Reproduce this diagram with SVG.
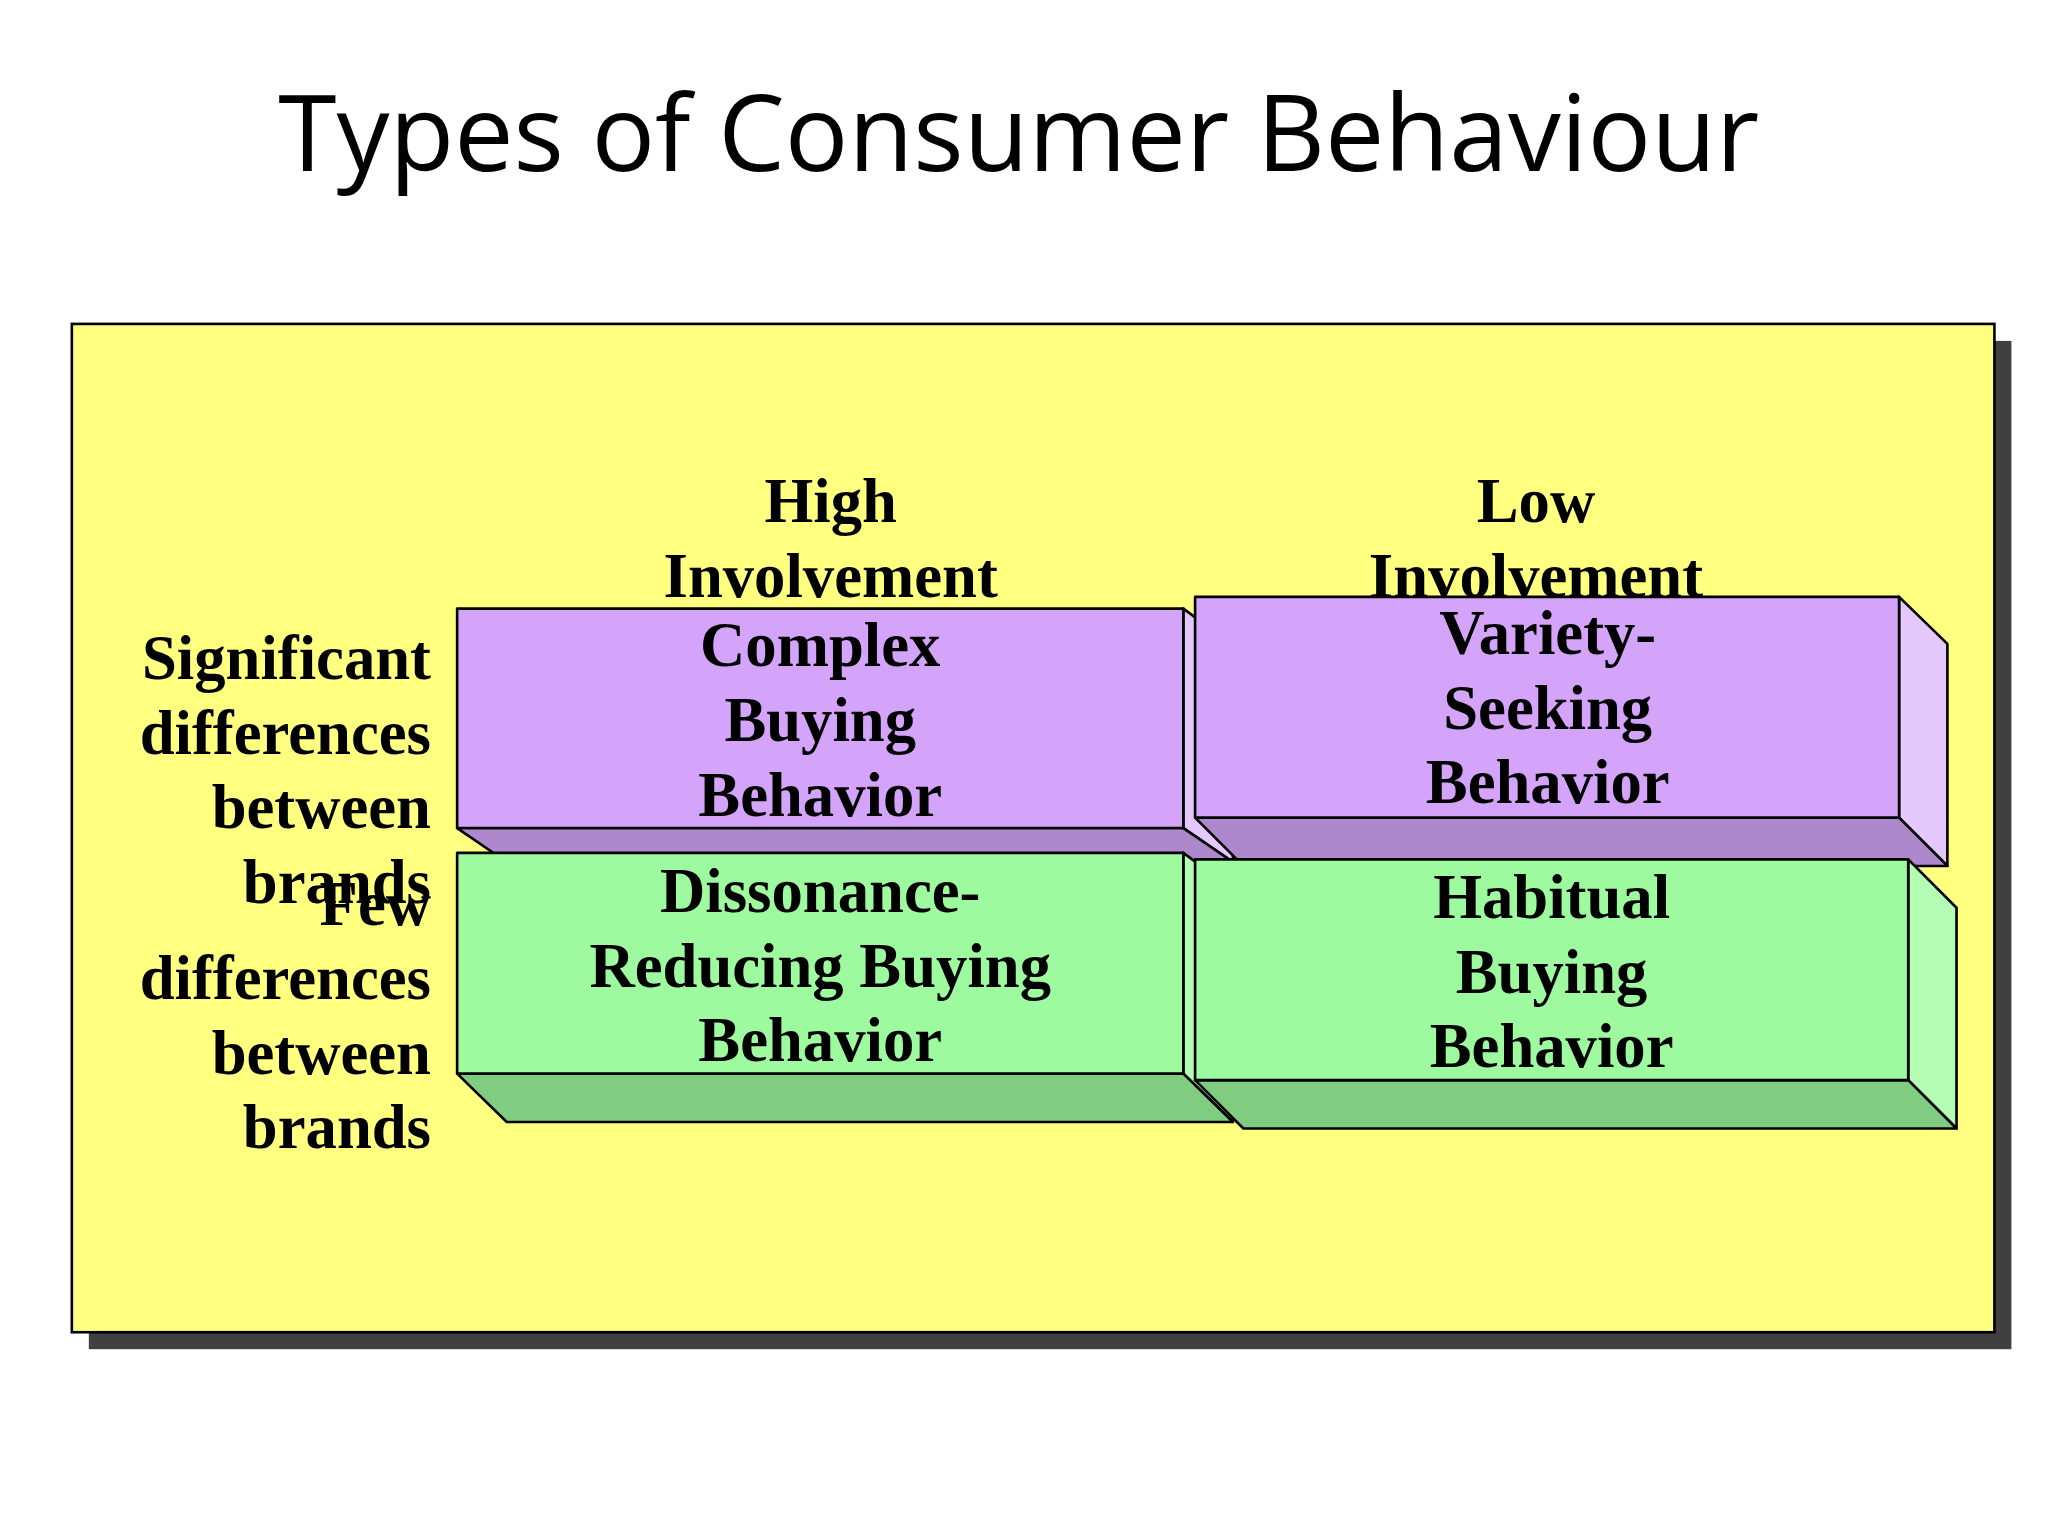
<svg xmlns="http://www.w3.org/2000/svg" width="2048" height="1536" viewBox="0 0 2048 1536">
<style>
.t{font-family:"Liberation Serif",serif;font-weight:bold;font-size:48px;fill:#000}
.c{text-anchor:middle}.r{text-anchor:end}
.e{stroke:#000;stroke-width:2;stroke-linejoin:round}
.pf{fill:#D4A4FA}.pb{fill:#AE88CC}.ps{fill:#E4C8FC}
.gf{fill:#9EFA9E}.gb{fill:#80CC80}.gs{fill:#B4FCB4}
</style>
<rect width="2048" height="1536" fill="#fff"/>
<g transform="scale(1.3061)">
<text x="780" y="131" text-anchor="middle" font-family="'Open Sans',sans-serif" font-size="81">Types of Consumer Behaviour</text>
<g id="panel">
<rect x="68" y="261" width="1472" height="772" fill="#404040"/>
<rect x="55" y="248" width="1472" height="772" fill="#FFFF80" stroke="#000" stroke-width="2"/>
</g>
<g id="headers">
<text class="t c" x="636" y="400">High</text>
<text class="t c" x="636" y="457">Involvement</text>
<text class="t c" x="1176" y="400">Low</text>
<text class="t c" x="1176" y="457">Involvement</text>
</g>
<g id="rowlabels">
<text class="t r" x="330" y="520">Significant</text>
<text class="t r" x="330" y="577">differences</text>
<text class="t r" x="330" y="634">between</text>
<text class="t r" x="330" y="691">brands</text>
<text class="t r" x="330" y="708">Few</text>
<text class="t r" x="330" y="765">differences</text>
<text class="t r" x="330" y="822">between</text>
<text class="t r" x="330" y="879">brands</text>
</g>
<g id="complex">
<polygon class="e ps" points="906,466 944,494 944,660 906,634"/>
<polygon class="e pb" points="350,634 906,634 944,660 388,660"/>
<rect class="e pf" x="350" y="466" width="556" height="168"/>
<text class="t c" x="628" y="510">Complex</text>
<text class="t c" x="628" y="567">Buying</text>
<text class="t c" x="628" y="625">Behavior</text>
</g>
<g id="variety">
<polygon class="e ps" points="1454,457 1491,493 1491,663 1454,626"/>
<polygon class="e pb" points="915,626 1454,626 1491,663 952,663"/>
<rect class="e pf" x="915" y="457" width="539" height="169"/>
<text class="t c" x="1185" y="501">Variety-</text>
<text class="t c" x="1185" y="558">Seeking</text>
<text class="t c" x="1185" y="615">Behavior</text>
</g>
<g id="dissonance">
<polygon class="e gs" points="906,653 944,681 944,859 906,822"/>
<polygon class="e gb" points="350,822 906,822 944,859 388,859"/>
<rect class="e gf" x="350" y="653" width="556" height="169"/>
<text class="t c" x="628" y="698">Dissonance-</text>
<text class="t c" x="628" y="756">Reducing Buying</text>
<text class="t c" x="628" y="812">Behavior</text>
</g>
<g id="habitual">
<polygon class="e gs" points="1461,658 1498,695 1498,864 1461,827"/>
<polygon class="e gb" points="915,827 1461,827 1498,864 952,864"/>
<rect class="e gf" x="915" y="658" width="546" height="169"/>
<text class="t c" x="1188" y="703">Habitual</text>
<text class="t c" x="1188" y="760">Buying</text>
<text class="t c" x="1188" y="817">Behavior</text>
</g>
<g id="connectors"/>
</g>
</svg>
